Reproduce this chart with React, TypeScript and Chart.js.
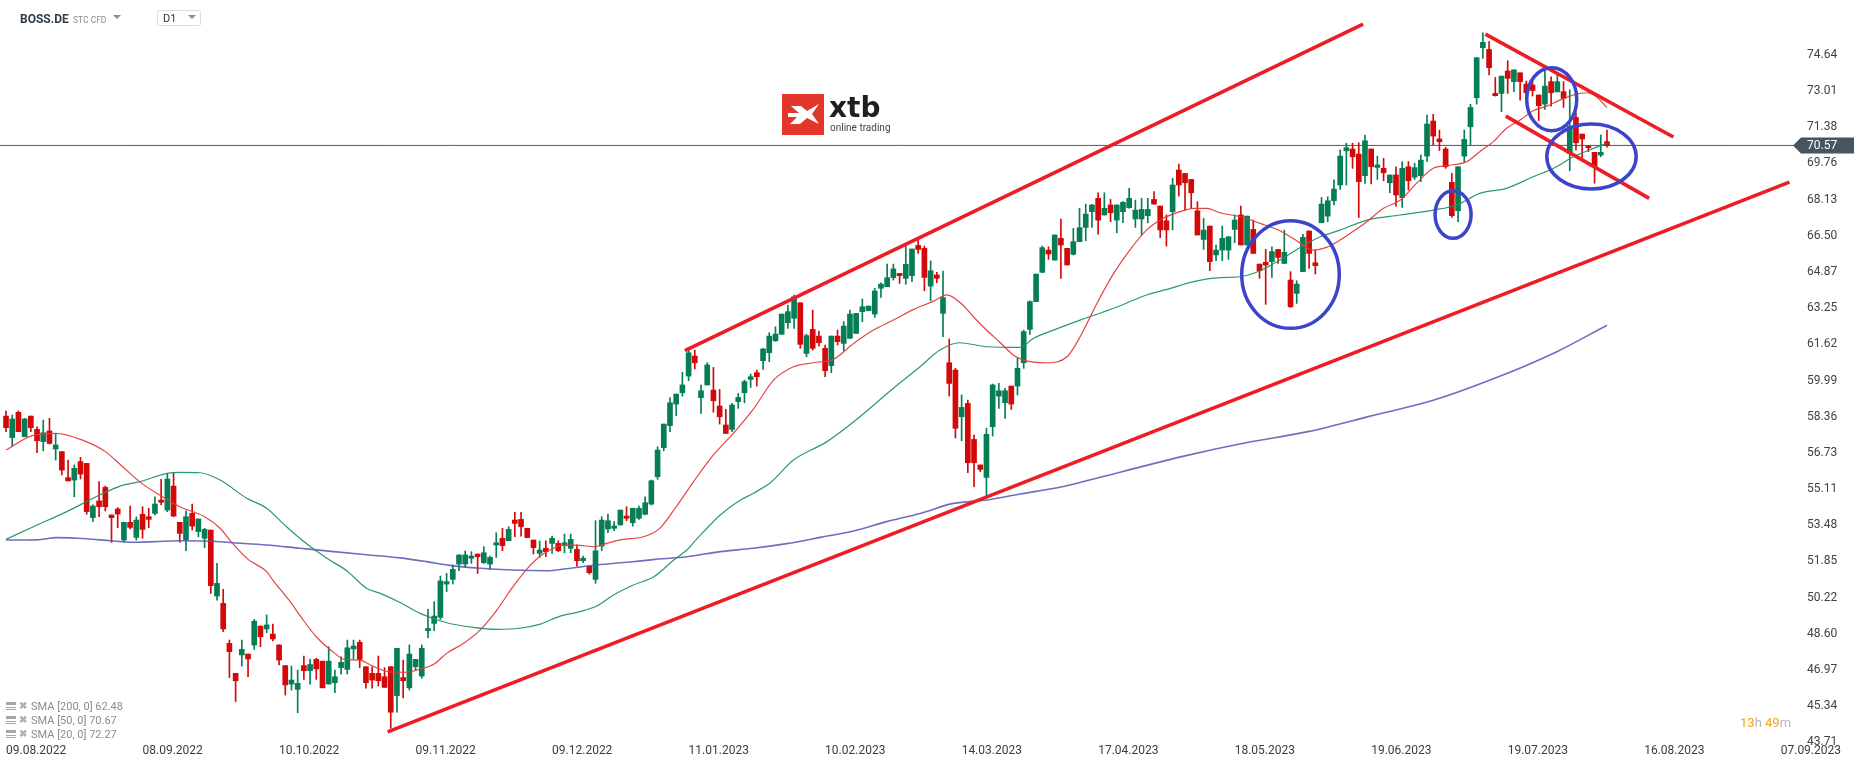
import React, { useEffect, useRef } from 'react';
import { Chart, registerables } from 'chart.js';

Chart.register(...registerables);

// ---------- DATA ----------
const OPEN = [
  58.39,57.42,58.56,57.46,58.39,57.79,57.24,57.72,56.91,56.79,
  55.62,55.51,56.34,56.26,53.82,54.57,55.18,53.94,54.21,52.81,
  53.61,52.93,53.97,53.86,54.01,54.61,54.16,55.24,53.61,52.81,
  54.01,53.19,52.89,53.26,50.29,49.96,48.16,46.81,47.64,47.68,
  48.09,48.94,48.81,48.58,48.09,47.16,46.33,46.09,47.16,46.93,
  47.44,47.36,46.33,46.39,47.07,46.99,47.91,48.21,47.11,46.81,
  46.81,46.66,47.11,45.81,46.62,46.16,47.11,46.69,48.73,49.06,
  49.33,50.83,51.04,51.73,51.73,51.99,52.18,51.79,51.73,52.59,
  52.89,52.78,53.71,53.74,53.34,52.81,52.21,52.44,52.66,52.66,
  52.56,52.44,52.39,51.88,51.64,51.04,52.54,53.31,53.34,53.49,
  53.89,53.59,53.79,53.97,54.43,55.66,56.97,57.96,58.93,59.44,
  60.19,61.09,59.22,59.79,59.56,58.84,57.99,57.79,59.04,59.44,
  60.04,60.34,60.88,61.24,61.78,62.07,62.59,62.79,63.49,61.21,
  62.29,61.99,61.44,60.66,61.99,61.66,61.89,62.11,63.09,63.13,
  62.98,64.14,64.21,64.62,64.81,64.59,64.71,66.07,65.94,64.24,
  64.74,63.01,60.79,60.46,58.36,58.96,57.34,56.19,55.63,57.91,
  59.29,58.99,59.74,59.74,60.79,62.29,63.54,64.86,65.86,65.41,
  66.39,65.94,65.67,66.24,66.88,67.59,68.19,67.44,67.89,67.21,
  67.59,67.77,67.26,67.26,67.41,68.14,67.84,67.18,67.59,69.46,
  69.31,69.04,67.63,66.34,66.94,65.64,65.86,65.86,66.79,67.44,
  66.09,66.79,65.23,65.31,65.34,65.89,65.26,64.51,63.91,64.89,
  66.72,65.29,67.09,67.39,68.08,68.79,70.33,70.41,70.18,69.21,
  70.41,69.58,69.54,68.89,69.24,68.22,69.61,69.14,69.21,70.09,
  71.67,70.86,70.41,68.91,67.63,70.09,71.41,72.72,74.97,74.89,
  72.91,72.91,73.92,73.44,73.84,73.33,73.29,72.84,72.43,73.44,
  72.98,72.99,70.21,71.83,71.08,70.54,70.26,70.14,70.74,
];
const HIGH = [
  58.62,58.44,58.62,58.29,58.39,57.91,58.21,58.29,57.61,56.79,
  56.41,56.19,56.53,56.26,54.39,55.44,55.24,53.94,54.27,53.61,
  54.34,53.86,54.31,54.24,54.76,55.54,55.81,55.84,53.61,54.12,
  54.43,53.76,53.34,53.26,51.76,50.59,48.31,46.81,48.31,47.68,
  49.24,48.94,49.44,49.03,48.09,47.16,47.14,46.96,47.59,47.44,
  47.49,47.36,48.01,46.96,47.56,48.31,48.31,48.31,47.11,47.11,
  47.59,47.07,47.11,47.94,47.41,48.09,47.44,48.09,49.69,50.04,
  51.19,51.31,51.69,52.14,52.32,52.29,52.18,52.51,52.09,53.14,
  53.34,53.41,54.06,54.06,53.34,52.81,52.77,52.77,52.99,52.78,
  53.08,53.08,52.59,52.09,51.64,53.68,53.86,53.98,53.64,54.16,
  54.31,54.24,54.34,54.76,55.51,57.01,58.03,59.22,59.38,60.36,
  61.36,61.36,59.79,60.79,60.58,59.59,58.69,58.96,59.41,60.01,
  60.28,60.46,61.44,62.14,62.41,62.98,63.39,63.84,63.49,62.08,
  63.16,62.22,61.59,61.99,62.26,62.64,63.16,63.01,63.66,63.34,
  64.14,64.39,65.23,65.23,64.81,66.13,65.91,66.34,66.04,65.37,
  64.86,64.92,61.86,60.54,59.34,59.11,57.54,56.19,57.84,59.83,
  59.86,59.64,59.74,60.99,62.26,63.58,64.78,66.04,66.01,66.54,
  67.26,65.94,66.84,67.74,67.93,67.92,68.44,68.44,68.14,67.89,
  68.04,68.64,68.11,68.19,68.19,68.49,67.84,67.44,69.09,69.73,
  69.31,69.04,68.04,67.29,66.94,66.09,66.94,66.46,67.44,67.84,
  67.39,67.21,65.23,65.89,66.01,65.89,66.76,64.89,64.48,66.57,
  66.72,65.86,68.23,68.26,69.02,70.37,70.67,70.67,70.69,71.04,
  70.41,70.09,69.99,69.24,69.61,69.84,69.84,69.77,70.14,71.94,
  71.97,71.26,70.49,69.31,69.61,71.26,72.42,74.52,75.64,75.24,
  73.63,73.69,74.38,73.97,73.84,73.47,73.44,72.84,73.96,73.66,
  73.77,73.44,73.07,72.04,71.08,70.54,70.26,71.04,71.26,
];
const LOW = [
  57.69,57.04,57.69,57.46,57.69,56.74,56.83,57.13,56.41,55.74,
  55.47,54.76,55.56,53.97,53.64,53.86,54.12,52.71,53.37,52.71,
  53.31,52.81,52.89,53.37,53.94,54.39,54.09,53.86,52.71,52.33,
  53.26,52.96,52.47,50.41,50.11,48.69,46.62,45.54,47.14,46.66,
  47.89,48.01,48.64,48.27,47.19,45.84,46.06,45.04,46.54,46.33,
  46.54,46.16,46.33,45.94,46.78,46.78,47.44,47.07,46.14,46.14,
  46.24,46.18,44.34,45.06,45.71,46.06,46.93,46.59,48.42,48.73,
  49.24,50.49,50.83,51.43,51.58,51.76,51.31,51.76,51.49,52.03,
  52.33,52.78,52.96,52.99,52.92,52.18,52.03,52.06,52.21,52.29,
  52.24,52.24,51.64,51.79,51.28,50.86,52.33,53.14,53.23,53.49,
  53.68,53.44,53.74,53.94,54.39,55.54,56.83,57.69,58.41,59.29,
  59.98,60.51,58.51,59.79,58.56,58.03,57.61,57.69,58.74,58.99,
  59.68,59.74,60.49,60.84,61.75,62.07,62.34,62.34,61.44,61.06,
  61.36,61.54,60.16,60.34,61.59,61.33,61.89,62.11,62.64,63.13,
  62.83,63.73,64.21,64.51,64.36,64.32,64.44,65.71,64.03,63.58,
  64.39,61.96,59.29,57.40,57.28,55.84,55.21,55.89,54.76,57.49,
  58.74,58.29,58.69,59.34,60.54,62.07,63.54,64.84,65.44,65.41,
  64.59,65.19,65.64,66.24,66.28,66.88,66.58,67.44,67.14,66.64,
  67.09,67.74,66.88,66.54,67.09,67.93,66.42,66.04,66.77,68.29,
  67.66,67.74,66.54,65.89,64.93,65.38,65.38,65.44,66.19,66.09,
  66.09,65.71,64.59,63.42,64.63,65.26,65.26,63.28,63.46,64.89,
  65.04,64.78,67.09,67.14,67.89,68.59,68.79,69.54,67.33,68.86,
  68.84,69.04,68.98,68.44,67.84,67.78,68.56,69.04,68.94,69.84,
  70.59,70.34,69.54,67.33,67.14,69.84,70.59,72.43,74.49,73.74,
  72.79,72.09,72.91,72.99,72.61,72.47,72.79,71.69,72.19,72.34,
  72.98,72.28,69.43,70.37,70.03,70.29,68.87,70.06,70.49,
];
const CLOSE = [
  57.87,58.26,57.69,58.26,57.87,57.28,57.64,57.16,57.09,55.96,
  55.47,56.04,55.78,54.09,54.34,54.31,54.31,53.82,53.98,53.61,
  53.38,53.71,53.29,53.74,54.43,54.51,55.56,53.89,53.11,53.86,
  53.44,53.76,53.29,50.76,50.86,48.81,47.79,46.48,47.89,47.46,
  49.16,48.46,48.99,48.36,47.41,46.29,46.51,46.36,46.93,47.21,
  47.01,46.16,47.36,46.66,47.31,47.96,48.04,47.44,46.39,46.51,
  46.48,46.18,45.06,47.94,46.48,47.68,47.44,47.94,48.83,49.39,
  50.97,50.94,51.49,52.14,52.14,52.09,52.06,52.24,52.03,52.69,
  52.56,53.29,53.56,53.41,52.92,52.47,52.36,52.29,52.89,52.33,
  52.69,52.84,51.88,51.99,51.34,52.33,53.71,53.68,53.44,54.16,
  53.79,54.24,54.24,54.49,55.48,56.86,58.03,58.99,59.38,59.79,
  61.24,60.79,59.53,60.69,59.08,58.36,57.61,58.89,59.23,59.94,
  60.16,60.16,61.41,61.99,62.08,62.98,63.09,63.76,61.62,62.01,
  61.44,61.69,60.43,61.99,61.74,62.44,62.98,63.01,63.31,63.34,
  64.02,64.33,64.62,65.01,64.71,65.22,65.91,65.89,64.63,64.93,
  64.59,63.72,59.86,57.84,58.78,56.29,56.29,55.99,57.57,59.79,
  59.53,59.53,58.93,60.54,62.19,63.54,64.78,65.97,65.68,66.54,
  66.09,65.19,66.24,66.87,67.48,67.89,67.21,67.74,67.54,67.89,
  68.01,68.19,67.66,67.69,67.69,67.93,66.77,66.77,68.79,68.79,
  68.89,68.44,66.54,66.76,65.34,65.86,66.39,66.46,67.21,66.09,
  67.39,65.71,64.93,65.19,65.79,65.53,65.76,63.31,64.33,66.43,
  65.71,65.16,67.93,68.08,68.61,70.09,70.47,70.06,68.94,70.78,
  69.61,69.69,69.34,69.24,68.34,69.54,68.98,69.57,69.91,71.53,
  70.99,70.74,69.61,67.41,69.61,70.84,72.28,74.52,75.21,74.07,
  72.81,73.69,73.59,73.97,73.44,72.94,73.04,72.36,73.24,72.94,
  73.44,72.69,71.44,70.69,70.86,70.47,69.61,70.26,70.57,
];

const DATE_LABELS = [
  '09.08.2022', '08.09.2022', '10.10.2022', '09.11.2022', '09.12.2022', '11.01.2023', '10.02.2023',
  '14.03.2023', '17.04.2023', '18.05.2023', '19.06.2023', '19.07.2023', '16.08.2023', '07.09.2023',
];
const DATE_STEP = 22;

const PRICE_TICKS = [
  74.64, 73.01, 71.38, 69.76, 68.13, 66.5, 64.87, 63.25, 61.62, 59.99,
  58.36, 56.73, 55.11, 53.48, 51.85, 50.22, 48.6, 46.97, 45.34, 43.71,
];
const LAST_PRICE = 70.57;

const SMA20_IDX = [0,4,8,12,16,18.5,21.5,25,28,32,34.5,36.5,39,42,43,46,47.5,50,53,54.5,57,59,62,64.5,66.7,69,71,73.7,76.4,79.1,81.7,83.9,86.1,88.2,90.3,92.5,94.7,96.8,99,103,105.4,108,110.8,114,117.2,120.4,123.7,126.9,130.1,133.3,136.6,139.8,143,146.2,149.4,151.6,153.8,155.9,157.5,160.2,162.5,164,167.7,171,173.1,175.8,178.5,181.1,183.8,186.5,189.2,191.4,193.5,195.6,198.9,202.1,205.3,208,210.7,212.8,215,216.6,219.3,222,224.7,227.3,230,232.2,235.4,237.5,239.7,241.8,244,246.1,248.3,250.4,252.6,254.7,256.3,258];
const SMA20_VAL = [56.86,57.49,57.61,57.34,56.79,56.19,55.44,54.79,54.31,53.86,53.34,52.66,51.94,51.39,51.01,49.96,49.36,48.46,47.71,47.44,47.41,47.15,46.87,46.86,47.0,47.23,47.71,48.16,48.76,49.66,50.71,51.49,52.09,52.44,52.59,52.57,52.51,52.66,52.82,52.98,53.35,54.31,55.44,56.64,57.61,58.69,60.01,60.61,60.79,60.94,61.66,62.26,62.71,63.18,63.55,63.84,63.49,62.86,62.4,61.7,61.1,60.91,60.79,61.06,61.96,63.46,64.81,65.86,66.76,67.29,67.59,67.74,67.74,67.54,67.36,67.06,66.73,66.28,65.86,65.98,66.31,66.61,67.14,67.74,68.11,68.86,69.54,69.66,69.84,70.29,70.74,71.34,71.71,72.13,72.34,72.61,72.84,72.94,72.76,72.27];

const SMA50_IDX = [0,4.4,9.8,15.1,18.4,21.6,25.9,28,31.3,34.5,38.8,42,45.2,48.5,51.7,54.9,58.1,60.3,63.5,66.7,71,75.3,79.1,82.8,86.1,89.3,92.5,95.2,97.9,101.1,104.4,107.6,109.7,111.3,115.1,118.3,120.4,123.2,126.9,132.3,137.6,143,147.3,150.5,153.7,158,163.4,165.6,168.8,173.1,178.5,183.8,187.1,191.4,195.6,198.9,202.1,205.3,208.5,211.8,215,219.3,224.7,230,233.8,237.5,241.8,246.1,249.4,252.6,255.8,258];
const SMA50_VAL = [52.84,53.41,54.09,54.84,55.24,55.44,55.81,55.86,55.84,55.51,54.69,54.24,53.41,52.63,51.99,51.43,50.64,50.41,50.0,49.51,49.09,48.88,48.79,48.84,49.03,49.39,49.59,49.84,50.34,50.79,51.16,51.91,52.36,52.85,53.94,54.6,54.91,55.4,56.41,57.24,58.36,59.64,60.61,61.36,61.69,61.51,61.48,61.89,62.26,62.71,63.24,63.84,64.09,64.44,64.62,64.66,64.93,65.41,65.97,66.46,66.76,67.21,67.44,67.66,67.89,68.41,68.64,69.16,69.54,70.06,70.44,70.67];

const SMA200_IDX = [0,5,8.2,13,16.8,20.5,24,28,32.3,36.6,42,47.4,52.8,58.1,63.5,67.8,71.5,76.4,81.7,87.1,90.3,95.2,100.5,104.3,109.7,115.1,120.4,125.8,131.2,136.6,141.9,147.3,152.7,158,163.4,170,180,190,200,210,220,230,240,250,258];
const SMA200_VAL = [52.81,52.82,52.92,52.87,52.78,52.71,52.74,52.78,52.77,52.69,52.59,52.44,52.29,52.15,52.01,51.84,51.67,51.54,51.46,51.43,51.52,51.69,51.82,51.93,52.06,52.29,52.44,52.65,52.93,53.22,53.64,54.01,54.46,54.61,54.88,55.2,55.9,56.6,57.2,57.7,58.4,59.1,60.1,61.3,62.48];

// trend lines: start / end as (bar index, price)
const TREND_START_IDX = [109.4, 61.5, 238.4, 241.7];
const TREND_START_PRICE = [61.33, 44.18, 75.58, 71.89];
const TREND_END_IDX = [218.7, 287.4, 268.7, 264.8];
const TREND_END_PRICE = [76.03, 68.92, 70.95, 68.19];

// highlighted zones (ellipses): centre index / price, radius in bars / price
const ZONE_IDX = [207.0, 233.2, 249.1, 255.5];
const ZONE_PRICE = [64.76, 67.46, 72.65, 70.07];
const ZONE_RX = [7.86, 2.9, 4.03, 7.2];
const ZONE_RY = [2.42, 1.07, 1.42, 1.46];

const SMA_LEGEND = ['SMA [200,  0] 62.48', 'SMA [50,  0] 70.67', 'SMA [20,  0] 72.27'];

// ---------- STYLE ----------
const W = 1866;
const H = 767;
const GREEN = '#067e55';
const RED = '#d30909';
const X_MIN = -0.97;
const X_MAX = 288.3;
const Y_MIN = 43.587;
const Y_MAX = 77.115;

const overlayPlugin = {
  id: 'overlay',
  afterDatasetsDraw(chart: any) {
    const { ctx, chartArea, scales } = chart;
    const xs = scales.x;
    const ys = scales.y;
    ctx.save();
    ctx.beginPath();
    ctx.rect(chartArea.left, chartArea.top, chartArea.right - chartArea.left, chartArea.bottom - chartArea.top);
    ctx.clip();
    ctx.strokeStyle = '#3c44c9';
    ctx.lineWidth = 3.5;
    ZONE_IDX.forEach((ci, k) => {
      const cx = xs.getPixelForValue(ci);
      const cy = ys.getPixelForValue(ZONE_PRICE[k]);
      const rx = Math.abs(xs.getPixelForValue(ci + ZONE_RX[k]) - cx);
      const ry = Math.abs(ys.getPixelForValue(ZONE_PRICE[k] + ZONE_RY[k]) - cy);
      ctx.beginPath();
      ctx.ellipse(cx, cy, rx, ry, 0, 0, Math.PI * 2);
      ctx.stroke();
    });
    ctx.restore();
  },
  afterDraw(chart: any) {
    const { ctx, chartArea, scales } = chart;
    const y = scales.y.getPixelForValue(LAST_PRICE);
    const x0 = chartArea.right - 2;
    ctx.save();
    ctx.fillStyle = '#46555f';
    ctx.beginPath();
    ctx.moveTo(x0, y);
    ctx.lineTo(x0 + 8, y - 8);
    ctx.lineTo(x0 + 61, y - 8);
    ctx.lineTo(x0 + 61, y + 8);
    ctx.lineTo(x0 + 8, y + 8);
    ctx.closePath();
    ctx.fill();
    ctx.fillStyle = '#ffffff';
    ctx.font = '12px Roboto';
    ctx.textBaseline = 'middle';
    ctx.textAlign = 'left';
    ctx.fillText(LAST_PRICE.toFixed(2), x0 + 14, y + 0.5);
    ctx.restore();
  },
};

function App() {
  const canvasRef = useRef<HTMLCanvasElement | null>(null);

  useEffect(() => {
    if (!canvasRef.current) return;
    Chart.defaults.font.family = 'Roboto';
    const idx = CLOSE.map((_, i) => i);
    const colors = idx.map((i) => (CLOSE[i] >= OPEN[i] ? GREEN : RED));

    const trendSets = TREND_START_IDX.map((sx, k) => ({
      type: 'line' as const,
      label: 'trend' + k,
      data: [
        { x: sx, y: TREND_START_PRICE[k] },
        { x: TREND_END_IDX[k], y: TREND_END_PRICE[k] },
      ],
      borderColor: '#ec1d25',
      borderWidth: 3.6,
      pointRadius: 0,
      order: 0,
    }));

    const smaSet = (label: string, xsArr: number[], ysArr: number[], color: string, width: number) => ({
      type: 'line' as const,
      label,
      data: xsArr.map((x, k) => ({ x, y: ysArr[k] })),
      borderColor: color,
      borderWidth: width,
      pointRadius: 0,
      cubicInterpolationMode: 'monotone' as const,
      order: 1,
    });

    const noPad = (s: any) => {
      s.paddingTop = 0;
      s.paddingBottom = 0;
      s.paddingLeft = 0;
      s.paddingRight = 0;
    };

    const chart = new Chart(canvasRef.current, {
      type: 'bar',
      data: {
        datasets: [
          ...trendSets,
          smaSet('SMA20', SMA20_IDX, SMA20_VAL, 'rgba(226,58,58,0.95)', 1.2),
          smaSet('SMA50', SMA50_IDX, SMA50_VAL, 'rgba(32,146,104,0.95)', 1.2),
          smaSet('SMA200', SMA200_IDX, SMA200_VAL, 'rgba(84,86,178,0.85)', 1.6),
          {
            type: 'bar' as const,
            label: 'body',
            data: idx.map((i) => ({ x: i, y: [OPEN[i], CLOSE[i]] })) as any,
            backgroundColor: colors,
            borderWidth: 0,
            grouped: false,
            barThickness: 5,
            maxBarThickness: 5,
            minBarLength: 1,
            order: 3,
          },
          {
            type: 'bar' as const,
            label: 'wick',
            data: idx.map((i) => ({ x: i, y: [LOW[i], HIGH[i]] })) as any,
            backgroundColor: colors,
            borderWidth: 0,
            grouped: false,
            barThickness: 1,
            maxBarThickness: 1,
            order: 4,
          },
          {
            type: 'line' as const,
            label: 'last',
            data: [
              { x: X_MIN - 1, y: LAST_PRICE },
              { x: X_MAX + 1, y: LAST_PRICE },
            ],
            borderColor: '#4b5863',
            borderWidth: 1,
            pointRadius: 0,
            order: 5,
          },
        ] as any,
      },
      options: {
        animation: false,
        responsive: false,
        maintainAspectRatio: false,
        devicePixelRatio: 1,
        layout: { padding: 0, autoPadding: false },
        events: [],
        plugins: { legend: { display: false }, tooltip: { enabled: false } },
        scales: {
          x: {
            type: 'linear',
            min: X_MIN,
            max: X_MAX,
            offset: false,
            grid: { display: false, drawTicks: false },
            border: { display: false },
            afterBuildTicks: (s: any) => {
              s.ticks = DATE_LABELS.map((_, k) => ({ value: k * DATE_STEP }));
            },
            afterFit: (s: any) => {
              s.height = 22;
              noPad(s);
            },
            ticks: {
              autoSkip: false,
              maxRotation: 0,
              minRotation: 0,
              align: 'start',
              padding: -1,
              color: '#383d42',
              font: { family: 'Roboto', size: 12 },
              callback: (_v: any, i: number) => DATE_LABELS[i],
            },
          },
          y: {
            type: 'linear',
            position: 'right',
            min: Y_MIN,
            max: Y_MAX,
            grid: { display: false, drawTicks: false },
            border: { display: false },
            afterBuildTicks: (s: any) => {
              s.ticks = PRICE_TICKS.map((v) => ({ value: v }));
            },
            afterFit: (s: any) => {
              s.width = 71;
              noPad(s);
            },
            ticks: {
              autoSkip: false,
              padding: 12,
              color: '#3d4349',
              font: { family: 'Roboto', size: 12 },
              callback: (v: any) => Number(v).toFixed(2),
            },
          },
        },
      } as any,
      plugins: [overlayPlugin],
    });
    return () => chart.destroy();
  }, []);

  const txt = (extra: React.CSSProperties): React.CSSProperties => ({
    position: 'absolute',
    fontFamily: 'Roboto, sans-serif',
    whiteSpace: 'nowrap',
    ...extra,
  });
  const tri = (left: number, top: number): React.CSSProperties => ({
    position: 'absolute',
    left,
    top,
    width: 0,
    height: 0,
    borderLeft: '4px solid transparent',
    borderRight: '4px solid transparent',
    borderTop: '4px solid #8d8d8d',
  });

  return (
    <div style={{ position: 'fixed', left: 0, top: 0, width: W, height: H, background: '#fff', overflow: 'hidden' }}>
      <canvas ref={canvasRef} width={W} height={H} style={{ position: 'absolute', left: 0, top: 0, width: W, height: H }} />

      <div style={txt({ left: 20, top: 11, fontSize: 12, lineHeight: '16px', fontWeight: 700, color: '#2f3d48' })}>BOSS.DE</div>
      <div style={txt({ left: 73, top: 14.5, fontSize: 8.5, lineHeight: '10px', color: '#8a8a8a' })}>STC CFD</div>
      <div style={tri(113, 15)} />
      <div style={{ position: 'absolute', left: 157, top: 10, width: 42, height: 14, border: '1px solid #dedede', borderRadius: 2 }} />
      <div style={txt({ left: 163, top: 12, fontSize: 11, lineHeight: '13px', color: '#333' })}>D1</div>
      <div style={tri(188, 15)} />

      <svg width={42} height={41} style={{ position: 'absolute', left: 782, top: 94 }}>
        <rect x={0} y={0} width={42} height={41} fill="#e4352b" />
        <path d="M6 19 L17 19 L9 12 L19 12 L25 17 L37 10 L30 20 L37 30 L25 24 L18 30 L8 30 L15 23 L6 23 Z" fill="#ffffff" />
      </svg>
      <div style={txt({ left: 829, top: 92, fontSize: 28, lineHeight: '32px', fontWeight: 700, fontFamily: '"DejaVu Sans", sans-serif', color: '#1f1f1f' })}>xtb</div>
      <div style={txt({ left: 830, top: 122, fontSize: 10, lineHeight: '11px', color: '#444' })}>online trading</div>

      {SMA_LEGEND.map((t, k) => (
        <div key={t} style={{ position: 'absolute', left: 6, top: 701 + k * 14.2, height: 12 }}>
          <div style={{ position: 'absolute', left: 0, top: 1, width: 10, height: 3, background: '#a6a6a6' }} />
          <div style={{ position: 'absolute', left: 0, top: 5.5, width: 10, height: 1, background: '#a6a6a6' }} />
          <div style={{ position: 'absolute', left: 0, top: 8, width: 10, height: 1, background: '#a6a6a6' }} />
          <div style={txt({ left: 13, top: -1, fontSize: 10, lineHeight: '12px', color: '#b0b0b0', fontWeight: 700 })}>✖</div>
          <div style={txt({ left: 25, top: -1.5, fontSize: 11, lineHeight: '13px', color: '#8c8c8c' })}>{t}</div>
        </div>
      ))}

      <div style={txt({ left: 1740, top: 715, fontSize: 13, lineHeight: '16px', color: '#f5a31b' })}>
        13<span style={{ color: '#b8b8b8' }}>h</span> 49<span style={{ color: '#b8b8b8' }}>m</span>
      </div>
    </div>
  );
}

export default App;
